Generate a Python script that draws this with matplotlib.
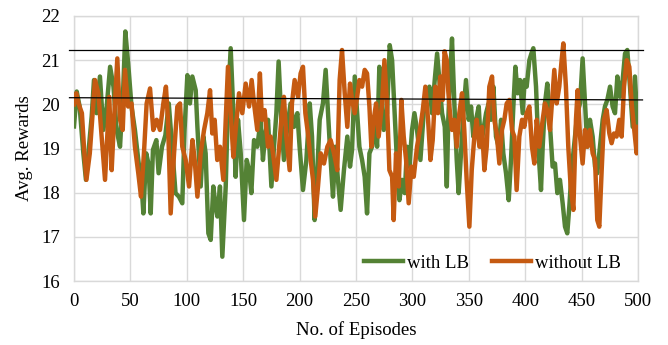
import matplotlib
matplotlib.use("Agg")
import matplotlib.pyplot as plt

# ---- data ----
green_ep = [0, 2.4, 5, 8.3, 10.6, 12.7, 15.7, 17.7, 20, 23,
            26, 29, 32, 35, 37.8, 40.8, 43.7, 45.5, 48, 51,
            54, 57, 60, 61.5, 64, 66, 68, 70, 73, 75,
            78, 81, 84, 87, 90, 93, 96, 98, 100.5, 102.8,
            104.9, 107.9, 109.4, 112.3, 114.7, 116.7, 119.1, 121.2, 123.5, 125.6,
            127.1, 129.4, 131.5, 134.5, 136.5, 138.9, 141.3, 143.3, 145.4, 147.8,
            150.7, 153.1, 155.2, 157.2, 159.6, 162.5, 165.5, 167.5, 169.6, 172,
            175, 177.3, 179.4, 181.4, 183.8, 186.1, 189.1, 192, 195, 198,
            200, 203, 206, 209, 211, 213.3, 215.7, 217.8, 220.7, 223.1,
            225.2, 227.5, 229.6, 231.7, 234, 236.4, 239.3, 242.3, 244.7, 246.5,
            248.9, 251, 253, 255.4, 257.7, 259.8, 261.9, 264.2, 266.6, 268.7,
            270.7, 272.5, 274.6, 277.5, 279.9, 282, 284.3, 286.4, 288.5, 290.8,
            293.2, 295.3, 297.3, 299.7, 301.8, 304.1, 307.1, 310, 313, 315.1,
            317.4, 319.8, 321.9, 323.9, 326.3, 328.7, 330.5, 331.8, 333.3, 335.1,
            337.2, 339.3, 341, 343.1, 345.2, 347.5, 349.9, 352, 354, 356.4,
            358.8, 360.8, 362.9, 365.3, 367.6, 369.7, 371.8, 374.1, 376.5, 378.6,
            380.6, 383, 385.4, 387.4, 389.5, 391.3, 393.3, 395.4, 397.8, 399.5,
            401.3, 403.7, 405.5, 407.2, 409.6, 411.9, 414, 415.5, 417.5, 419.6,
            422, 424.3, 426.4, 428.5, 430.8, 433.2, 435.3, 437.3, 439.1, 441.2,
            444.1, 446.2, 448.6, 450.9, 453, 455.1, 457.4, 459.8, 461.9, 463.9,
            466.3, 468.7, 470.7, 472.8, 475.2, 477.5, 479.6, 481.7, 484, 486.4,
            488.5, 490.5, 492.9, 495.3, 497.3, 500]
green_reward = [19.50, 20.29, 19.95, 18.89, 18.29, 18.89, 19.73, 20.55, 19.80, 20.63,
                19.42, 19.95, 20.85, 20.40, 19.42, 19.04, 20.40, 21.65, 20.93, 19.95,
                19.42, 18.74, 18.14, 17.53, 18.89, 18.66, 17.53, 18.97, 19.19, 18.44,
                19.04, 19.30, 20.02, 19.04, 17.99, 17.91, 17.76, 19.42, 20.66, 20.02,
                20.63, 20.32, 19.49, 18.14, 19.27, 18.89, 17.08, 16.93, 18.14, 17.68,
                17.46, 18.14, 16.55, 18.14, 20.02, 21.27, 19.80, 18.36, 19.65, 18.89,
                17.38, 18.74, 18.51, 17.99, 19.19, 19.04, 19.65, 18.74, 19.34, 19.65,
                18.14, 19.04, 19.80, 20.97, 19.65, 18.74, 19.49, 20.02, 19.49, 19.80,
                19.04, 18.06, 18.74, 20.02, 19.27, 17.38, 18.51, 19.65, 20.02, 20.78,
                19.80, 18.74, 17.91, 19.04, 18.29, 17.61, 18.51, 19.27, 18.59, 18.97,
                20.63, 19.80, 19.04, 18.74, 18.36, 17.53, 18.89, 19.04, 19.65, 19.04,
                20.85, 20.40, 19.42, 19.80, 21.34, 21.00, 19.80, 18.66, 17.83, 18.29,
                17.99, 19.04, 18.59, 19.42, 19.80, 19.42, 18.74, 19.80, 20.25, 20.40,
                19.80, 20.55, 21.15, 20.55, 19.80, 19.49, 18.14, 19.65, 20.55, 21.49,
                20.02, 18.74, 17.99, 18.89, 19.80, 20.55, 19.65, 19.95, 19.27, 19.65,
                19.95, 19.04, 19.42, 19.80, 20.02, 19.65, 20.40, 19.27, 19.04, 19.65,
                18.89, 18.44, 17.83, 18.74, 19.95, 20.85, 20.25, 20.55, 19.80, 20.55,
                20.40, 21.00, 21.15, 21.27, 20.40, 18.89, 18.06, 19.04, 20.02, 20.47,
                19.49, 18.59, 18.66, 17.99, 18.29, 17.76, 17.23, 17.08, 17.68, 18.51,
                19.27, 19.80, 20.02, 21.04, 20.02, 19.04, 19.65, 19.27, 18.59, 18.44,
                19.04, 19.65, 19.95, 20.10, 20.40, 19.95, 19.80, 20.63, 20.17, 20.55,
                21.15, 21.23, 20.40, 19.49, 20.63, 19.30]

orange_ep = [0, 2, 4, 7, 9, 11, 14, 16.5, 18.6, 21.6,
             24.5, 27.5, 29.5, 31.3, 33.4, 35.5, 38.4, 40.8, 43.2, 45.2,
             48, 51, 54, 57, 59.4, 62, 64.4, 67.4, 70.3, 73.3,
             76.2, 79.2, 81.5, 83.3, 85.7, 88.7, 91.6, 94, 96, 99,
             102, 105, 107, 109.4, 112.3, 115.3, 118.2, 120.6, 122.6, 124.7,
             127, 129.4, 132.4, 134.5, 136.5, 138.9, 141.3, 143.3, 146.3, 149.2,
             152.2, 155.2, 157.5, 159.6, 162.5, 164.8, 166.6, 169, 172, 174.3,
             176.4, 179.4, 181.4, 183.8, 186.1, 188.2, 191.2, 193.2, 195.6, 198.6,
             200.9, 203, 205.1, 207.4, 209.8, 211.9, 213.9, 216.3, 218.7, 221.6,
             224.6, 227.5, 230.5, 233.4, 235.5, 237.6, 240, 242.3, 244.7, 246.5,
             248.9, 251, 253, 255.4, 257.7, 259.8, 261.9, 263.6, 265.7, 267.8,
             270.1, 273.1, 275.2, 277.5, 279.6, 282, 283.4, 285.5, 287.9, 290.2,
             292.3, 294.4, 296.7, 299.1, 301.2, 304.1, 307.1, 309.2, 311.5, 313.9,
             316, 318, 320.4, 322.7, 324.8, 326.9, 328.5, 330.5, 331.8, 333.3,
             335.1, 337.2, 339.3, 341.6, 344, 346, 348.1, 350.5, 352.6, 354.9,
             357, 359.4, 361.7, 363.8, 365.9, 368.2, 370.6, 372.6, 374.7, 377.1,
             379.4, 381.5, 383.6, 386, 388.3, 390.4, 392.4, 394.8, 397.2, 399.2,
             401.3, 403.7, 406, 408.1, 410.2, 412.5, 415.5, 417.5, 419.6, 422,
             424.3, 425.8, 427.9, 430.2, 432.3, 433.8, 436.1, 438.2, 440.3, 442.7,
             445, 446.5, 448.6, 450.9, 453, 455.1, 457.4, 459.8, 461.9, 463.9,
             465.7, 467.8, 469.8, 472.2, 474.6, 476.6, 478.7, 481, 483.4, 485.5,
             487.6, 490, 492.3, 494.4, 496.4, 498.8, 500]
orange_reward = [20.00, 20.25, 20.02, 19.80, 18.97, 18.29, 18.89, 19.80, 20.55, 20.25,
                 19.27, 18.29, 19.27, 20.17, 18.51, 19.65, 21.04, 19.65, 19.42, 20.78,
                 19.95, 20.02, 19.04, 18.44, 17.91, 18.89, 20.02, 20.36, 19.42, 19.65,
                 19.42, 20.02, 20.40, 19.65, 17.53, 18.89, 19.95, 20.02, 19.04, 18.74,
                 18.14, 19.19, 18.74, 17.91, 18.89, 19.42, 19.80, 20.32, 19.34, 19.65,
                 18.74, 19.04, 18.29, 19.65, 20.85, 19.80, 18.81, 19.42, 20.25, 19.80,
                 20.47, 19.95, 20.55, 20.02, 19.42, 20.70, 19.65, 19.87, 19.04, 19.27,
                 18.89, 18.29, 18.89, 19.65, 20.17, 19.27, 18.51, 20.02, 20.55, 20.17,
                 20.70, 20.85, 19.80, 19.34, 18.74, 18.29, 17.46, 18.14, 18.89, 18.66,
                 19.04, 19.19, 18.89, 18.51, 20.55, 21.23, 20.25, 19.49, 20.47, 20.10,
                 19.80, 20.17, 20.55, 20.40, 20.78, 20.70, 19.95, 19.04, 19.65, 20.02,
                 19.27, 20.02, 21.00, 20.02, 18.51, 18.36, 17.38, 18.89, 18.14, 20.10,
                 19.27, 18.74, 17.76, 18.59, 18.36, 19.04, 19.49, 19.87, 20.40, 19.65,
                 18.74, 19.19, 20.40, 19.80, 20.63, 20.10, 21.20, 21.00, 20.30, 19.80,
                 19.42, 19.65, 19.04, 19.80, 20.25, 19.42, 18.29, 17.23, 18.51, 19.27,
                 19.65, 19.04, 19.49, 18.51, 19.04, 20.40, 20.63, 19.65, 19.34, 18.66,
                 19.42, 19.65, 20.02, 20.10, 19.42, 19.27, 18.06, 19.27, 19.65, 19.49,
                 19.80, 19.95, 19.04, 18.66, 19.65, 19.04, 19.65, 20.02, 19.87, 19.42,
                 20.25, 20.78, 20.02, 20.40, 21.00, 21.38, 20.40, 19.04, 18.14, 17.61,
                 19.65, 20.32, 19.27, 18.66, 19.42, 19.04, 19.42, 18.89, 18.74, 17.38,
                 17.23, 18.51, 19.65, 19.87, 19.34, 19.12, 19.34, 19.27, 19.65, 19.27,
                 20.40, 21.00, 20.85, 20.02, 19.49, 18.89, 19.49]

ref_upper = [21.22, 21.22]
ref_lower = [20.15, 20.10]
ref_ep = [-4, 504]

x_ticks = [0, 50, 100, 150, 200, 250, 300, 350, 400, 450, 500]
y_ticks = [16, 17, 18, 19, 20, 21, 22]

GREEN = "#548235"
ORANGE = "#C55A11"
GRID = "#D9D9D9"
FS = 13.5

plt.rcParams["font.family"] = ["Liberation Serif", "DejaVu Serif"]

fig = plt.figure(figsize=(6.68, 3.45), dpi=100)
ax = fig.add_axes([74 / 668, 1 - 281 / 345, (638 - 74) / 668, (281 - 16) / 345])

ax.plot(green_ep, green_reward, color=GREEN, lw=3.2, label="with LB",
        solid_joinstyle="round", zorder=3)
ax.plot(orange_ep, orange_reward, color=ORANGE, lw=3.2, label="without LB",
        solid_joinstyle="round", zorder=4)

ax.plot(ref_ep, ref_upper, color="black", lw=0.9, clip_on=False, zorder=5)
ax.plot(ref_ep, ref_lower, color="black", lw=0.9, clip_on=False, zorder=5)

ax.set_xlim(0, 500)
ax.set_ylim(16, 22)
ax.set_xticks(x_ticks)
ax.set_yticks(y_ticks)
ax.tick_params(axis="both", length=0, labelsize=FS, labelcolor="black")
ax.tick_params(axis="x", pad=8.5)
ax.tick_params(axis="y", pad=10)

ax.grid(True, color=GRID, lw=1.0, zorder=0)
ax.set_axisbelow(True)
for s in ax.spines.values():
    s.set_color(GRID)
    s.set_linewidth(1.0)

ax.set_xlabel("No. of Episodes", fontsize=FS, labelpad=8)
ax.set_ylabel("Avg. Rewards", fontsize=FS, labelpad=6)

ax.legend(loc="center left", bbox_to_anchor=(0.514, 0.068), ncol=2, frameon=False,
          fontsize=FS, handlelength=2.1, handletextpad=0.18, columnspacing=1.25,
          borderaxespad=0.0, borderpad=0.0)

fig.savefig("out.png", dpi=100)
